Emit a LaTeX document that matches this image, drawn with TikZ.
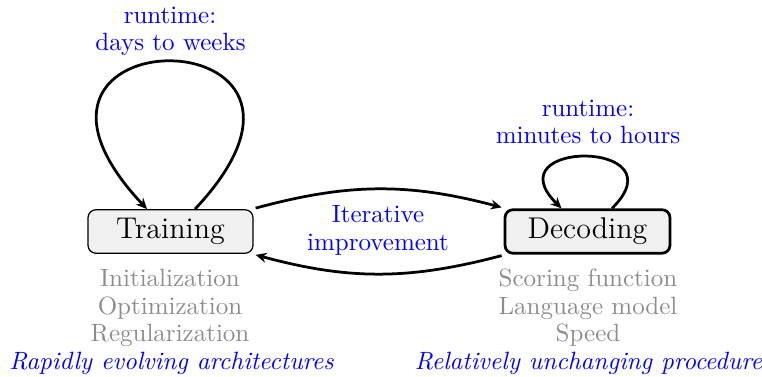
\documentclass[tikz,border=0pt]{standalone}
\usetikzlibrary{arrows.meta,calc}
\begin{document}
\begin{tikzpicture}[x=0.4pt,y=-0.4pt,
  arr/.style={line width=1.1pt,-{Stealth[length=4.4pt,width=4pt,inset=1.5pt]}},
  stagebox/.style={rounded corners=3.2pt,fill=black!6,minimum width=66pt,minimum height=17.4pt,inner sep=0pt,font=\large},
  bluetxt/.style={text=blue,anchor=base,inner sep=0pt},
  graytxt/.style={text=black!45,anchor=base,inner sep=0pt},
  noteTxt/.style={text=blue,anchor=base,inner sep=0pt,font=\itshape}]
\useasboundingbox (0,0) rectangle (762,377);
\node[stagebox,draw,line width=0.5pt] (tr) at (170.5,231.5) {Training};
\node[stagebox,draw,line width=1.1pt] (dec) at (587.5,231.5) {Decoding};
% self loops
\draw[arr] ($(tr.north)+(24.5,0)$) .. controls +(185,-197) and +(-185,-197) .. ($(tr.north)+(-23.5,0)$);
\draw[arr] ($(dec.north)+(24.5,0)$) .. controls +(70,-69) and +(-70,-69) .. ($(dec.north)+(-26,0)$);
% between
\draw[arr] ($(tr.north east)+(2,-1)$) to[bend left=15] ($(dec.north west)+(-2,-1)$);
\draw[arr] ($(dec.south west)+(-2,1)$) to[bend left=15] ($(tr.south east)+(2,1)$);
% labels
\node[bluetxt] (l1a) at (170,24) {runtime:};
\node[bluetxt] (l1b) at (170.5,51) {days to weeks};
\node[bluetxt] (l2a) at (588,117) {runtime:};
\node[bluetxt] (l2b) at (588,144) {minutes to hours};
\node[bluetxt] (it1) at (378,223) {Iterative};
\node[bluetxt] (it2) at (378,250.5) {improvement};
\node[graytxt] (g1) at (170,287) {Initialization};
\node[graytxt] (g2) at (170,314.5) {Optimization};
\node[graytxt] (g3) at (170,342) {Regularization};
\node[noteTxt] (n1) at (171.5,369.5) {Rapidly evolving architectures};
\node[graytxt] (h1) at (588,287) {Scoring function};
\node[graytxt] (h2) at (588,314.5) {Language model};
\node[graytxt] (h3) at (588,342) {Speed};
\node[noteTxt] (n2) at (588.5,369.5) {Relatively unchanging procedure};
\end{tikzpicture}
\end{document}
